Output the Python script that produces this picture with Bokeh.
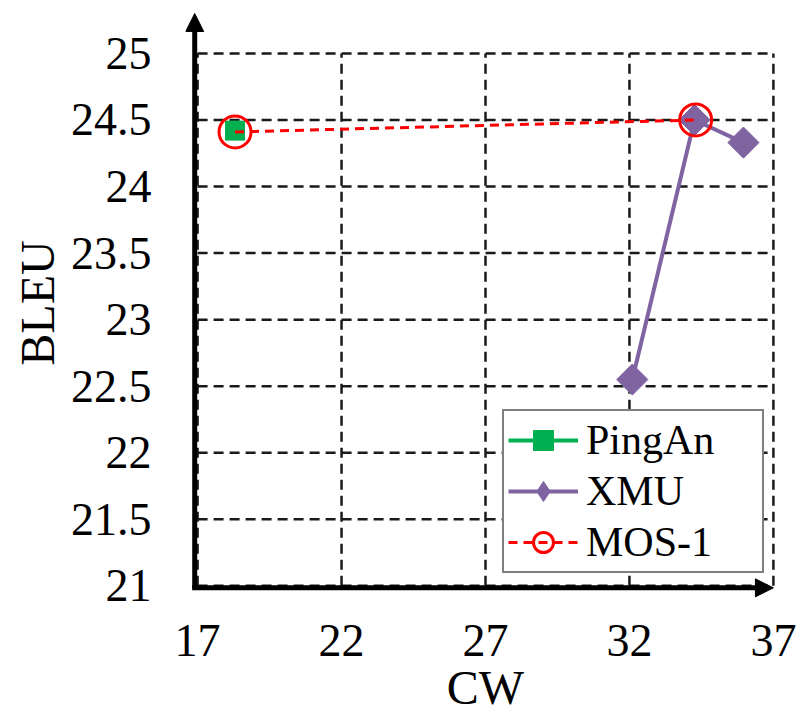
import math
from bokeh.plotting import figure
from bokeh.models import (Range1d, FixedTicker, Arrow, NormalHead, Legend, LegendItem)
from bokeh.embed import file_html
from bokeh.resources import INLINE

# ---- data ----
x_ticks = [17, 22, 27, 32, 37]
y_ticks = [21, 21.5, 22, 22.5, 23, 23.5, 24, 24.5, 25]

pingan_cw = [18.3]
pingan_bleu = [24.42]

xmu_cw = [32.1, 34.26, 35.96]
xmu_bleu = [22.55, 24.50, 24.33]

mos_cw = [18.3, 34.3]
mos_bleu = [24.41, 24.50]

FONT = "Liberation Serif"

x_lo, x_hi = x_ticks[0], x_ticks[-1]
y_lo, y_hi = y_ticks[0], y_ticks[-1]

p = figure(width=800, height=724, output_backend="svg", toolbar_location=None,
           x_range=Range1d(x_lo - 0.42, x_hi + 0.42),
           y_range=Range1d(y_lo - 0.11, y_hi + 0.36),
           min_border_left=185, min_border_right=15,
           min_border_top=5, min_border_bottom=124)
p.outline_line_color = None
p.background_fill_color = "white"
p.xgrid.visible = False
p.ygrid.visible = False

# axes: labels only (lines drawn as arrows below)
for ax in (p.xaxis[0], p.yaxis[0]):
    ax.axis_line_color = None
    ax.major_tick_line_color = None
    ax.minor_tick_line_color = None
    ax.major_label_text_font = FONT
    ax.major_label_text_font_size = "46px"
    ax.major_label_text_color = "black"
    ax.axis_label_text_font = FONT
    ax.axis_label_text_font_size = "48px"
    ax.axis_label_text_font_style = "normal"
    ax.axis_label_text_color = "black"

p.xaxis.ticker = FixedTicker(ticks=x_ticks)
p.yaxis.ticker = FixedTicker(ticks=y_ticks)
p.xaxis.axis_label = "CW"
p.yaxis.axis_label = "BLEU"
p.xaxis.major_label_standoff = 18
p.yaxis.major_label_standoff = 28
p.xaxis.axis_label_standoff = 2
p.yaxis.axis_label_standoff = 4

# dashed grid (box 17..37 x 21..25)
grid_style = dict(line_color="#1a1a1a", line_width=2.5, line_dash="10 6")
p.segment(x0=x_ticks, y0=[y_lo] * len(x_ticks), x1=x_ticks, y1=[y_hi] * len(x_ticks), **grid_style)
p.segment(x0=[x_lo] * len(y_ticks), y0=y_ticks, x1=[x_hi] * len(y_ticks), y1=y_ticks, **grid_style)

# axis lines with arrow heads
p.add_layout(Arrow(end=NormalHead(size=18, fill_color="black", line_color="black", line_width=1),
                   x_start=x_lo - 0.1, y_start=y_lo - 0.015, x_end=x_lo - 0.1, y_end=y_hi + 0.30,
                   line_width=5, line_color="black"))
p.add_layout(Arrow(end=NormalHead(size=18, fill_color="black", line_color="black", line_width=1),
                   x_start=x_lo - 0.19, y_start=y_lo - 0.015, x_end=x_hi, y_end=y_lo - 0.015,
                   line_width=5, line_color="black"))

# series
pl = p.line(pingan_cw, pingan_bleu, line_color="#00B050", line_width=4)
ps = p.scatter(pingan_cw, pingan_bleu, marker="square", size=19,
               fill_color="#00B050", line_color="#00B050")

xl = p.line(xmu_cw, xmu_bleu, line_color="#8064A2", line_width=4)
# diamond used for the legend swatch (legend swatches are never rotated);
# it sits fully hidden under the rotated squares below
xd = p.scatter(xmu_cw, xmu_bleu, marker="diamond", size=20,
               fill_color="#8064A2", line_color="#8064A2")
xs = p.scatter(xmu_cw, xmu_bleu, marker="square", size=22, angle=math.pi / 4,
               fill_color="#8064A2", line_color="#8064A2")

ml = p.line(mos_cw, mos_bleu, line_color="#FF0000", line_width=3, line_dash="9 6")
ms = p.scatter(mos_cw, mos_bleu, marker="circle", size=32,
               fill_color=None, line_color="#FF0000", line_width=3)

legend = Legend(items=[
    LegendItem(label="PingAn", renderers=[pl, ps]),
    LegendItem(label="XMU", renderers=[xl, xd]),
    LegendItem(label="MOS-1", renderers=[ml, ms]),
], location=(317, 27))
legend.label_text_font = FONT
legend.label_text_font_size = "42px"
legend.label_text_color = "black"
legend.glyph_width = 70
legend.glyph_height = 50
legend.label_height = 50
legend.label_width = 172
legend.spacing = 1
legend.padding = 4
legend.margin = 0
legend.label_standoff = 8
legend.border_line_color = "black"
legend.border_line_width = 2
legend.background_fill_alpha = 1
p.add_layout(legend, "center")

open("out.html", "w").write(file_html(p, INLINE))
